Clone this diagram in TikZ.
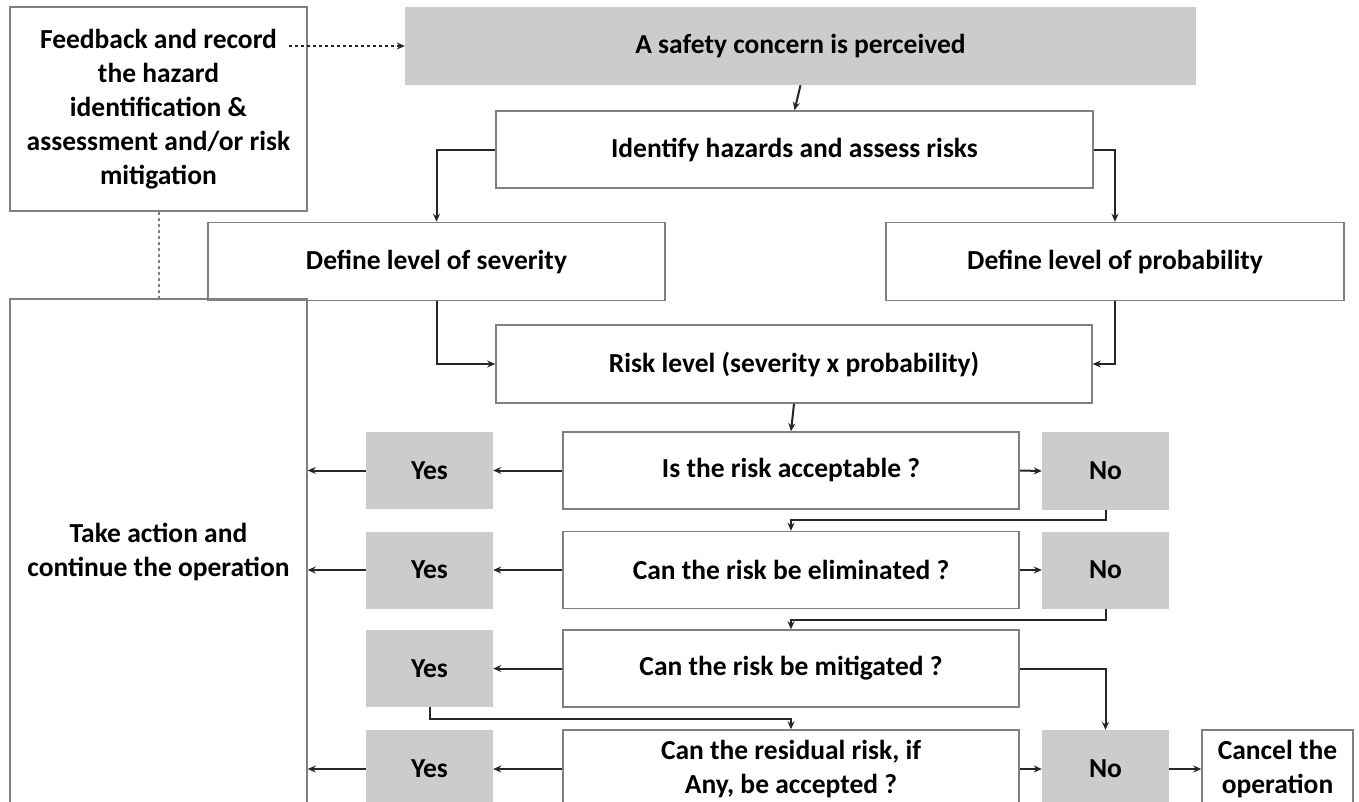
\documentclass[tikz,border=0pt]{standalone}
\usepackage{fontspec}
\setmainfont{Carlito}
\usetikzlibrary{arrows.meta}
\definecolor{shade}{HTML}{CCCCCC}
\definecolor{edge}{HTML}{808080}
\definecolor{wire}{HTML}{262626}

\begin{document}
\begin{tikzpicture}[x=1pt, y=-1pt, >={Stealth[length=8pt,width=7pt]},
    main/.style = {draw=edge, line width=1.5pt, align=center, inner sep=2pt, font=\bfseries\fontsize{27.5}{34}\selectfont},
    grey/.style = {fill=shade, align=center, inner sep=2pt, font=\bfseries\fontsize{27.5}{34}\selectfont},
    wire/.style = {draw=wire, line width=2pt}]
    \useasboundingbox (0,0) rectangle (1359,801);
    \clip (0,0) rectangle (1359,801);
    \fill[white] (0,0) rectangle (1359,801);

    % left column
    \node[main, minimum width=297pt, minimum height=204pt] (fb) at (158.5,109) {Feedback and record\\the hazard\\identification \&\\assessment and/or risk\\mitigation};
    \node[main, minimum width=297pt, minimum height=506pt] (act) at (158.5,552) {Take action and\\continue the operation};

    % assessment steps
    \node[grey, minimum width=791pt, minimum height=78pt] (top) at (800.5,46) {A safety concern is perceived};
    \node[main, minimum width=597pt, minimum height=77pt] (ident) at (794.5,149.5) {Identify hazards and assess risks};
    \node[main, minimum width=457pt, minimum height=78pt] (sev) at (436.5,261.5) {Define level of severity};
    \node[main, minimum width=458pt, minimum height=78pt] (prob) at (1115,261.5) {Define level of probability};
    \node[main, minimum width=596pt, minimum height=78pt] (risk) at (794,364) {Risk level (severity x probability)};

    % questions
    \node[main, minimum width=456pt, minimum height=77pt] (q1) at (791,470.5) {Is the risk acceptable ?};
    \node[main, minimum width=456pt, minimum height=77pt] (q2) at (791,570) {Can the risk be eliminated ?};
    \node[main, minimum width=456pt, minimum height=77pt] (q3) at (791,668.5) {Can the risk be mitigated ?};
    \node[main, minimum width=456pt, minimum height=78pt] (q4) at (791,769) {Can the residual risk, if\\Any, be accepted ?};

    % answers
    \node[grey, minimum width=127pt, minimum height=77pt] (y1) at (429.5,470.5) {Yes};
    \node[grey, minimum width=127pt, minimum height=77pt] (y2) at (429.5,570) {Yes};
    \node[grey, minimum width=127pt, minimum height=77pt] (y3) at (429.5,668.5) {Yes};
    \node[grey, minimum width=127pt, minimum height=78pt] (y4) at (429.5,769) {Yes};
    \node[grey, minimum width=127pt, minimum height=78pt] (n1) at (1105.5,471) {No};
    \node[grey, minimum width=127pt, minimum height=77pt] (n2) at (1105.5,570) {No};
    \node[grey, minimum width=127pt, minimum height=78pt] (n4) at (1105.5,769) {No};
    \node[main, minimum width=151pt, minimum height=78pt] (cancel) at (1277.5,769) {Cancel the\\operation};

    % feedback links
    \draw[dashed, ->, wire, line width=1.5pt] ([xshift=-19pt]fb.east |- top.west) -- (top.west);
    \draw[dashed, draw=edge, line width=2pt] (fb) -- (act);

    % main flow
    \draw[->, wire] (top.south) -- (ident.north);
    \draw[->, wire] (ident.west) -| (sev.north);
    \draw[->, wire] (ident.east) -| (prob.north);
    \draw[->, wire] (sev.south) |- (risk.west);
    \draw[->, wire] (prob.south) |- (risk.east);
    \draw[->, wire] (risk.south) -- (q1.north);

    \draw[->, wire] (q1.west) -- (y1.east);
    \draw[->, wire] (y1.west) -- (y1.west -| act.east);
    \draw[->, wire] (q1.east) -- (n1.west);
    \draw[->, wire] (n1.south) -- ++(0,10) -| (q2.north);

    \draw[->, wire] (q2.west) -- (y2.east);
    \draw[->, wire] (y2.west) -- (y2.west -| act.east);
    \draw[->, wire] (q2.east) -- (n2.west);
    \draw[->, wire] (n2.south) -- ++(0,11) -| (q3.north);

    \draw[->, wire] (q3.west) -- (y3.east);
    \draw[->, wire] (q3.east) -| (n4.north);
    \draw[->, wire] (y3.south) -- ++(0,12) -| (q4.north);

    \draw[->, wire] (q4.west) -- (y4.east);
    \draw[->, wire] (y4.west) -- (y4.west -| act.east);
    \draw[->, wire] (q4.east) -- (n4.west);
    \draw[->, wire] (n4.east) -- (cancel.west);
\end{tikzpicture}
\end{document}
